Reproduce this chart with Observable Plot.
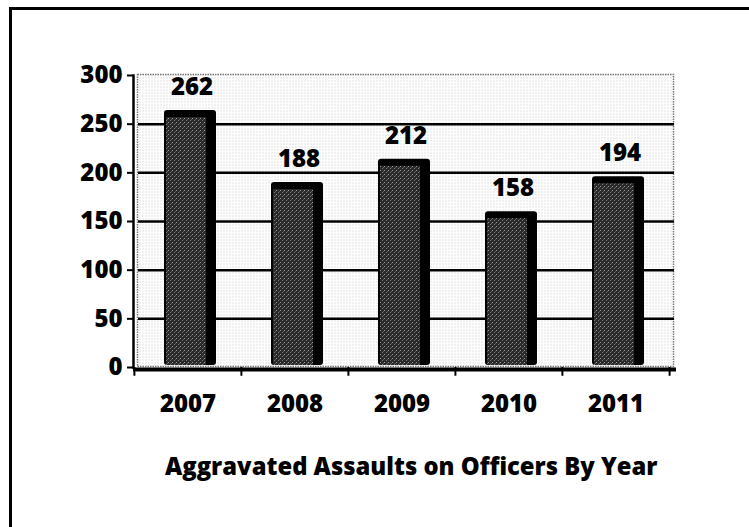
<!DOCTYPE html>
<html><head><meta charset="utf-8">
<script src="https://cdn.jsdelivr.net/npm/d3@7"></script>
<script src="https://cdn.jsdelivr.net/npm/@observablehq/plot@0.6"></script>
<style>
html,body{margin:0;padding:0;background:#fff;width:749px;height:527px;overflow:hidden;position:relative;font-family:"Open Sans",sans-serif}
#frame{position:absolute;left:9px;top:7px;width:760px;height:540px;border-left:3px solid #000;border-top:3px solid #000;box-sizing:border-box}
#chart{position:absolute;left:0;top:0}
#title{position:absolute;left:165px;top:454px;font:800 23.8px/25px "Open Sans",sans-serif;color:#000;white-space:nowrap}
</style></head>
<body>
<div id="frame"></div>
<div id="chart"></div>
<div id="title">Aggravated Assaults on Officers By Year</div>
<script>
const years = ["2007", "2008", "2009", "2010", "2011"];
const values = [262, 188, 212, 158, 194];
const yTicks = [0, 50, 100, 150, 200, 250, 300];
const gridValues = [50, 100, 150, 200, 250];
const data = years.map((y, i) => ({year: y, value: values[i]}));

const W = 749, ML = 133, MR = 80;
const bw = (W - ML - MR) / years.length;
const font = "'Open Sans', sans-serif";

const svg = Plot.plot({
  width: W, height: 420,
  marginLeft: ML, marginRight: MR, marginTop: 75, marginBottom: 53,
  style: {fontFamily: font, background: "transparent", overflow: "visible"},
  x: {domain: years, padding: 0},
  y: {domain: [0, 300], ticks: yTicks},
  marks: [
    Plot.frame({fill: "url(#wallPat)", stroke: "#777", strokeWidth: 1.5, strokeDasharray: "1.5,1", dx: 4, dy: -1}),
    Plot.ruleY(gridValues, {stroke: "#000", strokeWidth: 2.5, dx: 5}),
    Plot.barY(data, {x: "year", y: "value", fill: "#000", insetLeft: 30, insetRight: 25, dy: -2, rx: 3}),
    Plot.barY(data, {x: "year", y: "value", fill: "url(#barPat)", insetLeft: 32, insetRight: 35, insetTop: 7, dy: -2}),
    Plot.ruleY([0], {stroke: "#000", strokeWidth: 4, dy: 2, insetRight: -7}),
    Plot.frame({anchor: "left", stroke: "#000", strokeWidth: 2.5}),
    Plot.ruleX(years, {x: d => d, dx: -bw / 2, y1: 0, y2: -9, stroke: "#000", strokeWidth: 2}),
    Plot.ruleX([years[years.length - 1]], {x: d => d, dx: bw / 2, y1: 0, y2: -9, stroke: "#000", strokeWidth: 2}),
    Plot.axisY(yTicks, {tickSize: 6, tickPadding: 5, fontSize: 24, fontWeight: 800, stroke: "#000", strokeWidth: 2, fill: "#000", label: null}),
    Plot.axisX({tickSize: 0, tickPadding: 27, fontSize: 24, fontWeight: 800, fill: "#000", label: null}),
    Plot.text(data, {x: "year", y: "value", text: d => String(d.value), dy: -25, dx: 4, fontSize: 24, fontWeight: 800, fill: "#000"})
  ]
});

const defs = d3.select(svg).insert("defs", ":first-child");
const wp = defs.append("pattern").attr("id", "wallPat").attr("patternUnits", "userSpaceOnUse").attr("width", 3).attr("height", 3);
wp.append("rect").attr("width", 3).attr("height", 3).attr("fill", "#fff");
wp.append("rect").attr("width", 1).attr("height", 1).attr("fill", "#c4c4c4");
const bp = defs.append("pattern").attr("id", "barPat").attr("patternUnits", "userSpaceOnUse").attr("width", 4).attr("height", 4);
bp.append("rect").attr("width", 4).attr("height", 4).attr("fill", "#2a2a2a");
bp.append("rect").attr("x", 0).attr("y", 0).attr("width", 1).attr("height", 1).attr("fill", "#9a9a9a");
bp.append("rect").attr("x", 2).attr("y", 2).attr("width", 1).attr("height", 1).attr("fill", "#7a7a7a");
bp.append("rect").attr("x", 3).attr("y", 1).attr("width", 1).attr("height", 1).attr("fill", "#5a5a5a");

document.getElementById("chart").appendChild(svg);
</script>
</body></html>
